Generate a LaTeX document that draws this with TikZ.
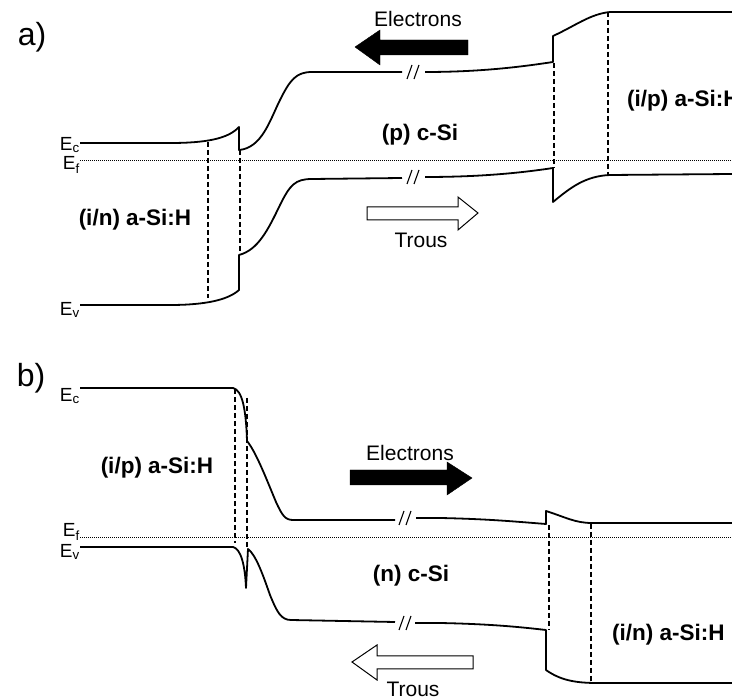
\documentclass[tikz,border=0pt]{standalone}
\usepackage{fontspec}
\setmainfont{Liberation Sans}
\usetikzlibrary{positioning}

\begin{document}
\begin{tikzpicture}[x=1pt,y=-1pt,
  band/.style={line width=1.8pt,line join=round},
  fermi/.style={line width=0.9pt,dash pattern=on 1pt off 1pt},
  iface/.style={line width=1.1pt,dash pattern=on 5pt off 3pt},
  lbl/.style={inner sep=0pt,font=\fontsize{22.5}{26}\selectfont\bfseries},
  txt/.style={inner sep=0pt,font=\fontsize{21}{24}\selectfont},
  lev/.style={inner sep=0pt,anchor=east,font=\fontsize{19}{22}\selectfont},
  panel/.style={inner sep=0pt,font=\fontsize{32}{36}\selectfont},
  brk/.pic={\draw[line width=1.1pt] (-6,7) -- (-1,-7) (1,7) -- (6,-7);}]
\useasboundingbox (0,0) rectangle (732,700);

% a) (i/n) a-Si:H / (p) c-Si / (i/p) a-Si:H
\node (pa) [panel] at (32,37) {a)};
\node (eca) [lev] at (80,145) {E\textsubscript{c}};
\node (efa) [lev] at (80,165) {E\textsubscript{f}};
\node (eva) [lev] at (80,310) {E\textsubscript{v}};
\draw [fermi] (80,160) -- (732,160);

\draw [band] (80,143) -- (170,143) .. controls (205,143) and (228,139) .. (239,127)
  -- (239,150) .. controls (262,148) and (270,120) .. (280,100)
  .. controls (290,80) and (296,72) .. (312,72) -- (402,72);
\draw [band] (425,72) .. controls (480,72) and (520,67) .. (553,62) -- (553,36)
  .. controls (575,26) and (590,14) .. (610,12) -- (732,12);
\draw [band] (80,305) -- (170,305) .. controls (205,305) and (228,300) .. (239,290)
  -- (239,255) .. controls (258,250) and (268,230) .. (280,205)
  .. controls (290,185) and (295,179) .. (312,179) -- (402,178);
\draw [band] (425,177) .. controls (480,177) and (520,173) .. (553,168) -- (553,202)
  .. controls (570,188) and (585,176) .. (610,175) -- (732,174);
\pic at (413,72) {brk};
\pic at (413,177) {brk};

\draw [iface] (208,142) -- (208,298);
\draw [iface] (240,150) -- (240,255);
\draw [iface] (554,63) -- (554,168);
\draw [iface] (608,12) -- (608,175);

\draw [fill=black] (468,40) -- (380,40) -- (380,30) -- (355,47) -- (380,65) -- (380,55) -- (468,55) -- cycle;
\draw [fill=white,line width=1pt] (367,207) -- (458,207) -- (458,197) -- (478,213) -- (458,230) -- (458,220) -- (367,220) -- cycle;
\node (elea) [txt] at (418,19) {Electrons};
\node (trsa) [txt] at (421,240) {Trous};

\node (ina) [lbl] at (135,220) {(i/n) a-Si:H};
\node (pca) [lbl] at (420,135) {(p) c-Si};
\node (ipa) [lbl,anchor=west] at (627,101) {(i/p) a-Si:H};

% b) (i/p) a-Si:H / (n) c-Si / (i/n) a-Si:H
\node (pb) [panel] at (31,378) {b)};
\node (ecb) [lev] at (80,396) {E\textsubscript{c}};
\node (efb) [lev] at (80,532) {E\textsubscript{f}};
\node (evb) [lev] at (80,552) {E\textsubscript{v}};
\draw [fermi] (80,537) -- (732,537);

\draw [band] (80,388) -- (233,388) .. controls (242,390) and (246,408) .. (247,441)
  .. controls (256,452) and (266,478) .. (276,502)
  .. controls (282,515) and (285,520) .. (293,520) -- (395,520);
\draw [band] (416,518) -- (440,518) .. controls (490,519) and (520,522) .. (546,524) -- (546,511)
  .. controls (565,517) and (575,523) .. (592,523) -- (732,523);
\draw [band] (80,547) -- (233,547) .. controls (241,549) and (245,565) .. (246,588)
  -- (248,549) .. controls (256,555) and (263,575) .. (270,595)
  .. controls (277,612) and (281,620) .. (291,620) -- (395,622);
\draw [band] (415,623) -- (440,623) .. controls (490,624) and (520,627) .. (546,630) -- (546,670)
  .. controls (560,680) and (575,683) .. (597,683) -- (732,683);
\pic at (405,518) {brk};
\pic at (405,623) {brk};

\draw [iface] (235,389) -- (235,543);
\draw [iface] (247,398) -- (247,547);
\draw [iface] (549,525) -- (549,630);
\draw [iface] (591,524) -- (591,681);

\draw [fill=black] (350,470) -- (447,470) -- (447,462) -- (472,478) -- (447,495) -- (447,485) -- (350,485) -- cycle;
\draw [fill=white,line width=1pt] (473,656) -- (377,656) -- (377,645) -- (352,662) -- (377,680) -- (377,669) -- (473,669) -- cycle;
\node (eleb) [txt] at (410,453) {Electrons};
\node (trsb) [txt] at (413,689) {Trous};

\node (ipb) [lbl] at (157,468) {(i/p) a-Si:H};
\node (ncb) [lbl] at (411,576) {(n) c-Si};
\node (inb) [lbl,anchor=west] at (612,635) {(i/n) a-Si:H};

\end{tikzpicture}
\end{document}
